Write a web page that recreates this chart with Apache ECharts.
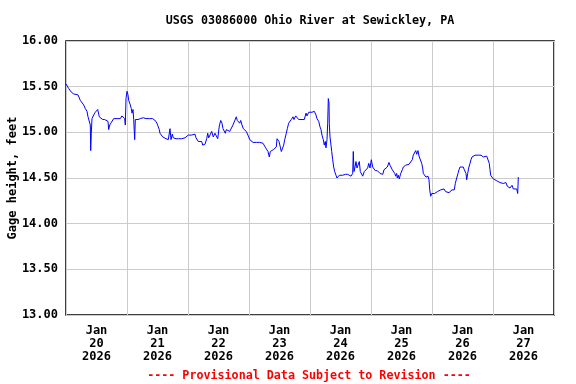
<!DOCTYPE html>
<html>
<head>
<meta charset="utf-8">
<script src="https://cdn.jsdelivr.net/npm/echarts@6/dist/echarts.min.js"></script>
<style>
html,body{margin:0;padding:0;background:#fff;}
#chart{width:576px;height:384px;}
</style>
</head>
<body>
<div id="chart"></div>
<script>
// Hours since Jan 20 2026 00:00
const hours = [0.0,0.39,1.06,1.30,2.09,3.03,3.66,4.72,5.23,5.63,6.30,6.96,7.59,8.26,8.66,9.17,9.56,9.72,9.95,10.23,10.90,11.53,11.92,12.47,12.87,13.10,13.77,14.44,15.23,15.86,16.52,16.80,17.19,17.82,18.77,19.40,20.07,20.73,21.36,22.03,22.70,23.09,23.33,23.61,24.00,24.39,24.67,25.30,25.69,25.97,26.36,26.64,27.03,27.27,27.66,28.33,29.23,29.78,30.41,31.08,31.48,31.99,32.77,33.44,34.11,34.62,35.41,35.92,36.31,36.71,36.98,37.38,38.05,38.56,39.34,39.86,40.25,40.64,40.92,41.31,41.82,42.22,42.61,43.28,44.18,44.85,45.52,46.15,46.82,47.49,48.12,48.51,49.46,50.09,50.75,51.15,51.66,52.05,52.72,53.39,53.78,54.29,54.69,55.36,55.75,56.14,56.66,57.32,57.95,58.62,59.29,59.69,60.08,60.32,60.87,61.38,61.77,62.16,62.68,63.07,63.74,64.41,65.04,65.70,66.37,67.00,67.40,67.95,68.34,68.73,69.25,69.76,70.31,70.94,71.33,71.88,72.28,72.91,73.57,74.24,74.87,75.54,76.21,76.84,77.51,78.18,78.57,78.96,79.47,79.99,80.38,81.05,81.56,82.11,82.74,83.02,83.41,83.80,84.31,84.71,85.10,85.65,86.05,86.68,87.07,87.62,88.02,88.64,89.31,89.70,90.37,91.00,91.55,92.07,92.46,93.13,93.76,94.43,94.82,95.49,96.00,96.79,97.30,97.69,98.36,98.75,99.42,99.93,100.33,100.72,101.23,101.62,102.02,102.29,102.69,102.96,103.20,103.48,103.59,103.87,104.26,104.54,104.93,105.32,105.72,106.23,106.62,107.02,107.53,108.20,108.87,109.49,109.89,110.44,110.83,111.46,112.13,112.80,113.03,113.31,113.70,114.10,114.49,114.89,115.40,115.79,116.34,116.74,117.36,118.03,118.70,119.10,119.61,120.12,120.67,121.18,121.70,121.97,122.49,123.04,123.56,124.07,124.62,125.11,125.78,126.41,127.08,127.48,127.99,128.38,128.77,129.33,129.72,130.11,130.35,130.74,131.13,131.69,132.32,132.71,133.26,133.66,134.28,134.95,135.62,136.25,136.64,137.19,137.59,137.98,138.49,138.89,139.28,139.56,139.95,140.34,140.58,141.13,141.64,142.15,142.43,142.82,143.10,143.49,143.88,144.39,145.06,145.57,146.09,146.75,147.42,148.05,148.72,149.39,150.02,150.69,151.35,151.87,152.38,152.77,153.17,153.72,154.23,154.62,155.02,155.69,156.31,156.71,157.10,157.38,157.65,158.05,158.44,158.95,159.34,159.74,160.25,160.92,161.59,162.22,162.89,163.28,163.67,164.18,164.58,164.85,165.52,166.15,166.54,166.82,167.09,167.61,168.12,168.79,169.46,170.09,170.75,171.42,172.05,172.72,173.11,173.62,174.17,174.69,175.08,175.48,175.99,176.66,177.33,177.72,177.96];
// Gage height, feet
const gage = [15.53,15.51,15.48,15.46,15.44,15.42,15.41,15.41,15.39,15.35,15.33,15.30,15.26,15.23,15.17,15.18,15.08,14.80,14.99,15.15,15.19,15.22,15.23,15.25,15.20,15.17,15.15,15.14,15.14,15.15,15.12,15.03,15.08,15.10,15.15,15.16,15.15,15.17,15.15,15.18,15.17,15.15,15.08,15.37,15.45,15.41,15.35,15.30,15.26,15.21,15.25,15.14,14.92,15.14,15.16,15.14,15.15,15.15,15.16,15.18,15.15,15.15,15.15,15.17,15.15,15.14,15.12,15.09,15.06,15.03,14.99,14.97,14.95,14.94,14.93,14.95,14.92,14.94,15.04,14.92,14.98,14.94,14.92,14.93,14.93,14.94,14.93,14.95,14.94,14.95,14.97,14.95,14.97,14.95,14.98,14.94,14.92,14.90,14.88,14.90,14.86,14.84,14.87,14.93,14.99,14.94,14.97,15.01,14.95,14.99,15.01,14.93,14.92,15.07,15.13,15.10,15.04,15.06,14.99,15.03,15.01,15.01,15.02,15.08,15.09,15.17,15.13,15.14,15.10,15.13,15.08,15.04,15.03,15.01,14.99,14.95,14.92,14.90,14.89,14.89,14.89,14.88,14.89,14.87,14.88,14.86,14.83,14.85,14.79,14.73,14.79,14.80,14.81,14.79,14.84,14.93,14.94,14.90,14.84,14.79,14.80,14.86,14.92,14.99,15.04,15.10,15.12,15.14,15.17,15.14,15.18,15.17,15.14,15.12,15.14,15.12,15.14,15.21,15.18,15.22,15.20,15.22,15.20,15.23,15.19,15.15,15.12,15.06,15.03,14.97,14.92,14.86,14.90,14.83,14.92,15.10,15.37,15.32,15.10,14.95,14.86,14.79,14.70,14.62,14.57,14.53,14.50,14.52,14.53,14.52,14.53,14.52,14.54,14.52,14.54,14.53,14.52,14.55,14.79,14.57,14.62,14.68,14.61,14.64,14.68,14.57,14.59,14.52,14.57,14.57,14.61,14.66,14.61,14.70,14.62,14.64,14.58,14.59,14.58,14.56,14.55,14.55,14.54,14.59,14.61,14.62,14.67,14.64,14.62,14.59,14.57,14.55,14.52,14.55,14.50,14.53,14.49,14.55,14.59,14.62,14.61,14.64,14.64,14.65,14.67,14.70,14.75,14.77,14.80,14.76,14.80,14.74,14.75,14.72,14.66,14.61,14.55,14.53,14.51,14.51,14.52,14.48,14.37,14.30,14.33,14.35,14.33,14.31,14.35,14.33,14.37,14.35,14.38,14.35,14.37,14.34,14.36,14.37,14.39,14.37,14.44,14.50,14.55,14.59,14.62,14.63,14.62,14.59,14.57,14.55,14.48,14.55,14.61,14.66,14.70,14.73,14.74,14.75,14.74,14.75,14.76,14.75,14.76,14.73,14.72,14.74,14.74,14.72,14.66,14.59,14.53,14.51,14.49,14.48,14.47,14.46,14.45,14.46,14.44,14.42,14.45,14.41,14.42,14.39,14.41,14.42,14.38,14.39,14.38,14.33,14.51];
const dayLabels = ['Jan\n20\n2026','Jan\n21\n2026','Jan\n22\n2026','Jan\n23\n2026','Jan\n24\n2026','Jan\n25\n2026','Jan\n26\n2026','Jan\n27\n2026'];
const titleText = 'USGS 03086000 Ohio River at Sewickley, PA';
const yName = 'Gage height, feet';
const footer = '---- Provisional Data Subject to Revision ----';

const FONT = '"DejaVu Sans Mono", monospace';
const chart = echarts.init(document.getElementById('chart'), null, {renderer: 'canvas'});
const seriesData = hours.map((h, i) => [h, gage[i]]);

chart.setOption({
  animation: false,
  backgroundColor: '#fff',
  title: [{
    text: titleText,
    left: 305, top: 10, textAlign: 'center',
    textStyle: {fontFamily: FONT, fontSize: 11.7, fontWeight: 'bold', color: '#000'}
  }, {
    text: footer,
    left: 304, top: 365, textAlign: 'center',
    textStyle: {fontFamily: FONT, fontSize: 11.7, fontWeight: 'bold', color: '#ff0000'}
  }],
  grid: {left: 66, top: 41, right: 22, bottom: 69, containLabel: false, outerBoundsMode: 'none',
         show: true, borderColor: '#000', borderWidth: 1.5, backgroundColor: 'transparent'},
  xAxis: [{
    type: 'value', min: 0, max: 192, interval: 24,
    axisLine: {show: false}, axisTick: {show: false}, axisLabel: {show: false},
    splitLine: {show: true, lineStyle: {color: '#cccccc', width: 1}}
  }, {
    type: 'category', data: dayLabels, boundaryGap: true, position: 'bottom',
    axisLine: {show: false}, axisTick: {show: false}, splitLine: {show: false},
    axisLabel: {margin: 9, fontFamily: FONT, fontSize: 12, fontWeight: 'bold', color: '#000', lineHeight: 13, interval: 0}
  }],
  yAxis: {
    type: 'value', min: 13, max: 16, interval: 0.5,
    name: yName, nameLocation: 'middle', nameGap: 47, nameRotate: 90, nameMoveOverlap: false,
    nameTextStyle: {fontFamily: FONT, fontSize: 12, fontWeight: 'bold', color: '#000'},
    axisLine: {show: false}, axisTick: {show: false},
    axisLabel: {margin: 8, fontFamily: FONT, fontSize: 12, fontWeight: 'bold', color: '#000', formatter: v => v.toFixed(2)},
    splitLine: {show: true, lineStyle: {color: '#cccccc', width: 1}}
  },
  series: [{
    type: 'line', xAxisIndex: 0, data: seriesData, showSymbol: false,
    lineStyle: {color: '#0000ff', width: 1}, itemStyle: {color: '#0000ff'}
  }]
});
</script>
</body>
</html>
